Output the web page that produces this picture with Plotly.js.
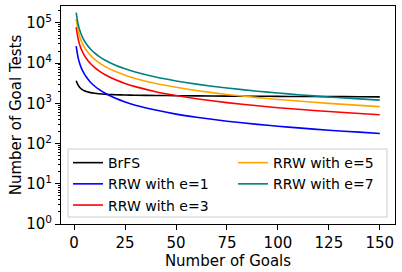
<!DOCTYPE html>
<html>
<head>
<meta charset="utf-8">
<script src="https://cdn.plot.ly/plotly-3.0.1.min.js"></script>
<style>html,body{margin:0;padding:0;background:#fff;}#chart{width:402px;height:272px;}</style>
</head>
<body>
<div id="chart"></div>
<script>
// Number of goals (x)
const goals = [1,2,3,4,5,6,7,8,10,12,15,20,25,30,40,50,60,75,90,100,110,125,140,150];
// Number of goal tests per method
const brfs = [3650,2800,2400,2200,2050,1960,1900,1850,1780,1730,1680,1640,1610,1590,1570,1550,1530,1510,1500,1490,1480,1470,1460,1450];
const rrwE1 = [26500,13300,8900,6700,5400,4500,3850,3350,2700,2250,1800,1350,1080,900,680,540,450,360,300,270,245,215,192,178];
const rrwE3 = [78000,39000,26000,19500,15600,13000,11100,9750,7800,6500,5200,3900,3120,2600,1950,1560,1300,1040,870,780,710,625,560,520];
const rrwE5 = [125000,62000,41500,31000,25000,20800,17800,15600,12500,10400,8300,6250,5000,4150,3100,2500,2080,1660,1390,1250,1140,1000,890,830];
const rrwE7 = [180000,90000,60000,45000,36000,30000,25700,22500,18000,15000,12000,9000,7200,6000,4500,3600,3000,2400,2000,1800,1640,1440,1290,1200];

const seriesNames = ['BrFS','RRW with e=1','RRW with e=3','RRW with e=5','RRW with e=7'];
const seriesColors = ['#000000','#0000ff','#ff0000','#ffa500','#008080'];
const seriesLegend = ['legend','legend','legend','legend2','legend2'];
const seriesData = [brfs, rrwE1, rrwE3, rrwE5, rrwE7];

const yTickVals = [1,10,100,1000,10000,100000];
const yTickText = ['10<sup>0</sup>','10<sup>1</sup>','10<sup>2</sup>','10<sup>3</sup>','10<sup>4</sup>','10<sup>5</sup>'];
const xTickVals = [0,25,50,75,100,125,150];

const traces = seriesData.map((d,i)=>({
  x: goals, y: d, type:'scatter', mode:'lines', name: seriesNames[i],
  line:{color: seriesColors[i], width:1.6, shape:'spline', smoothing:0.6},
  legend: seriesLegend[i]
}));

const tf = {family:'DejaVu Sans, sans-serif', size:15, color:'#000'};
const lf = {family:'DejaVu Sans, sans-serif', size:14, color:'#000'};
const legendBase = {
  orientation:'v', yanchor:'top', xanchor:'left', y:0.353,
  bgcolor:'rgba(0,0,0,0)', borderwidth:0, font:lf, traceorder:'normal'
};
const layout = {
  width:402, height:272,
  margin:{l:61, r:7, t:6, b:48},
  paper_bgcolor:'#fff', plot_bgcolor:'#fff',
  font: tf,
  showlegend:true,
  xaxis:{
    range:[-6.45,157.45], tickmode:'array', tickvals:xTickVals,
    ticks:'outside', ticklen:5, tickwidth:1, tickcolor:'#000',
    showline:true, mirror:true, linecolor:'#000', linewidth:1,
    showgrid:false, zeroline:false, tickfont:tf,
    title:{text:'Number of Goals', font:tf, standoff:2}
  },
  yaxis:{
    type:'log', range:[0,5.42], tickmode:'array', tickvals:yTickVals, ticktext:yTickText,
    ticks:'outside', ticklen:5, tickwidth:1, tickcolor:'#000',
    minor:{ticks:'outside', ticklen:2.5, tickcolor:'#000', dtick:'D1', showgrid:false},
    showline:true, mirror:true, linecolor:'#000', linewidth:1,
    showgrid:false, zeroline:false, tickfont:tf,
    title:{text:'Number of Goal Tests', font:tf, standoff:0}
  },
  legend: Object.assign({}, legendBase, {x:0.021}),
  legend2: Object.assign({}, legendBase, {x:0.515}),
  shapes:[{
    type:'rect', xref:'paper', yref:'paper', x0:0.021, x1:0.976, y0:0.032, y1:0.344,
    line:{color:'#cccccc', width:1}, fillcolor:'rgba(255,255,255,0.8)', layer:'above'
  }]
};
Plotly.newPlot('chart', traces, layout, {displayModeBar:false, staticPlot:true});
</script>
</body>
</html>
